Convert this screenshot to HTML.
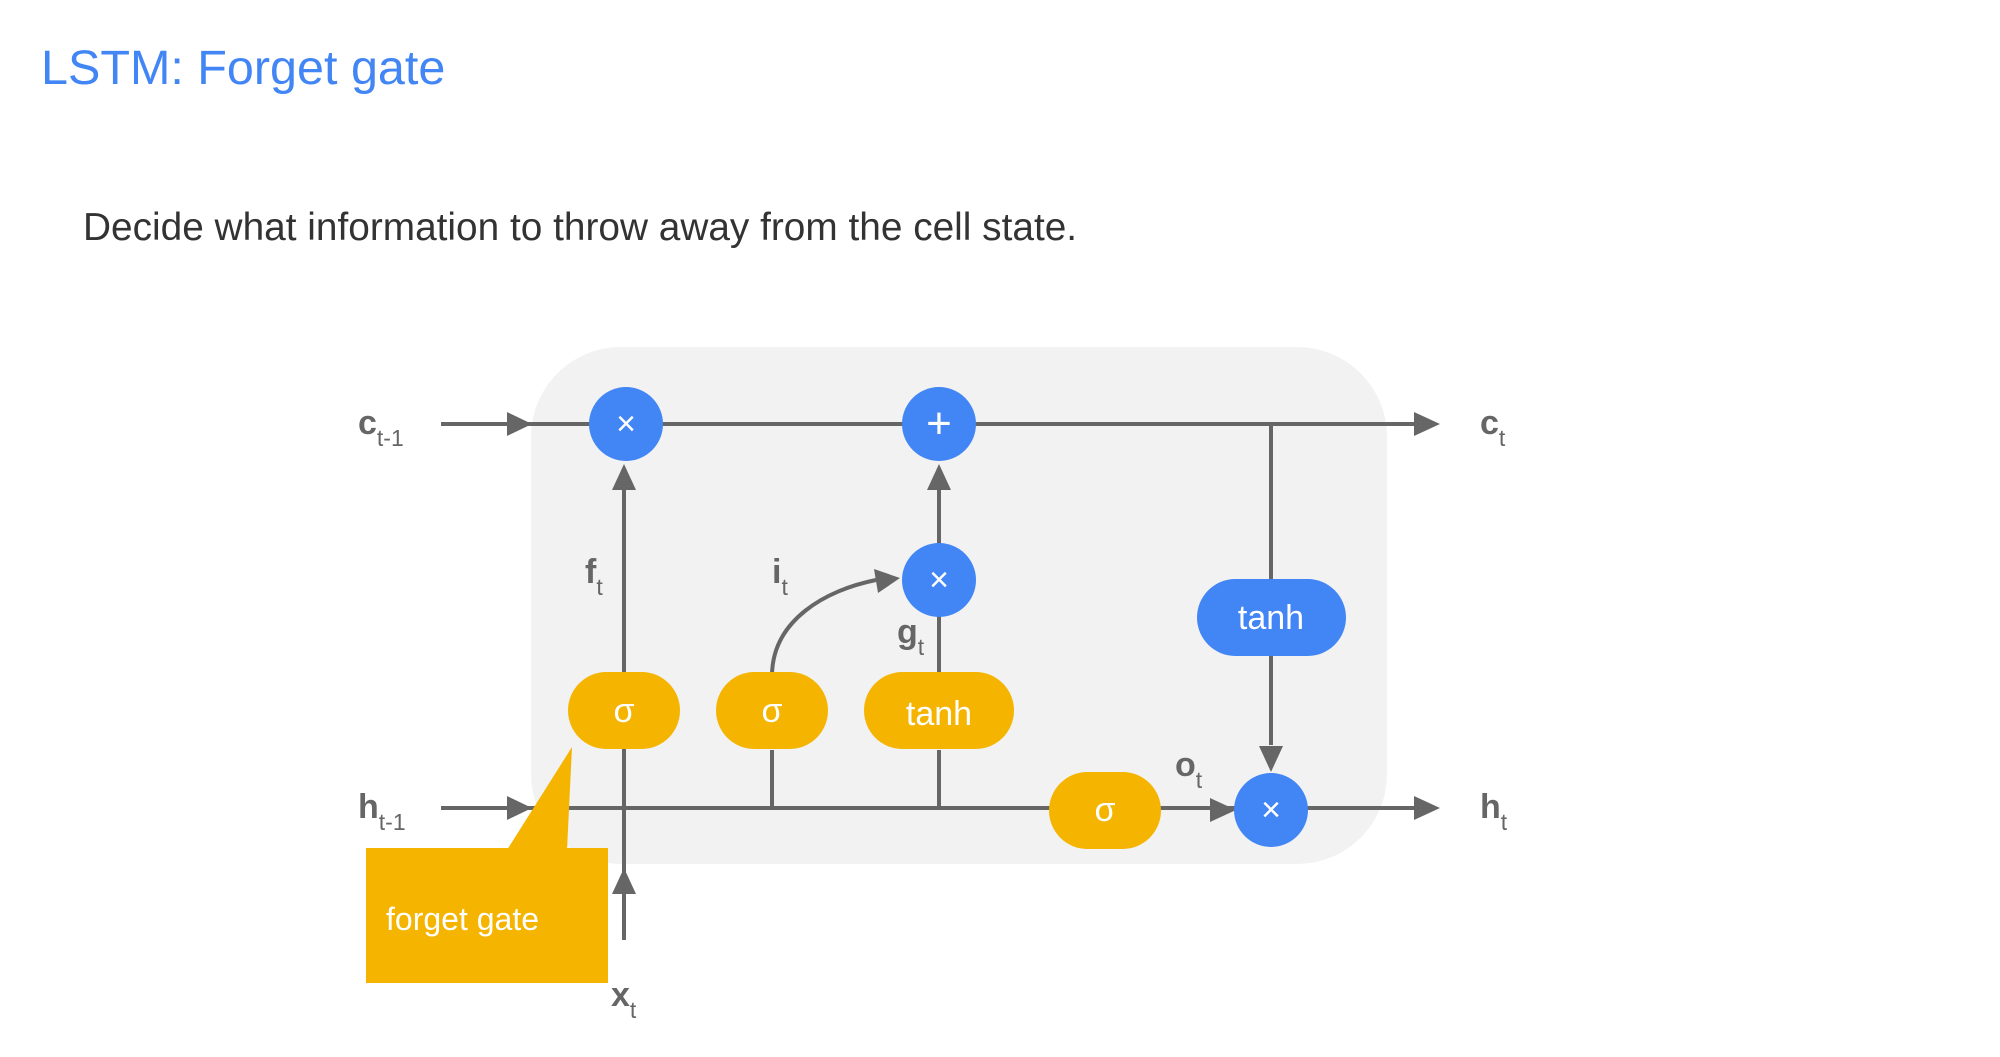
<!DOCTYPE html>
<html><head><meta charset="utf-8"><style>
html,body{margin:0;padding:0;background:#fff;width:2000px;height:1057px;overflow:hidden}
svg{display:block}
</style></head><body>
<svg width="2000" height="1057" viewBox="0 0 2000 1057" xmlns="http://www.w3.org/2000/svg" font-family="Liberation Sans, sans-serif">
<text x="41" y="84" font-size="48.5" fill="#4285f4">LSTM: Forget gate</text>
<text x="83" y="240" font-size="38.8" fill="#333">Decide what information to throw away from the cell state.</text>
<rect x="531" y="347" width="856" height="517" rx="90" fill="#f2f2f2"/>
<g stroke="#666" stroke-width="4" fill="none">
<line x1="441" y1="424" x2="1414" y2="424"/>
<line x1="441" y1="808" x2="1414" y2="808"/>
<line x1="624" y1="940" x2="624" y2="470"/>
<line x1="772" y1="750" x2="772" y2="808"/>
<line x1="939" y1="750" x2="939" y2="808"/>
<line x1="939" y1="676" x2="939" y2="615"/>
<line x1="939" y1="545" x2="939" y2="468"/>
<line x1="1271" y1="424" x2="1271" y2="580"/>
<line x1="1271" y1="656" x2="1271" y2="745"/>
<path d="M772 676 C772 620 826 590 876 580"/>
</g>
<g fill="#666">
<polygon points="532,424 507,412 507,436"/>
<polygon points="532,808 507,796 507,820"/>
<polygon points="1440,424 1414,412 1414,436"/>
<polygon points="1440,808 1414,796 1414,820"/>
<polygon points="624,464 612,490 636,490"/>
<polygon points="939,464 927,490 951,490"/>
<polygon points="624,868 612,894 636,894"/>
<polygon points="1271,772 1259,746 1283,746"/>
<polygon points="1236,810 1210,798 1210,822"/>
<polygon points="900,578 874,569 878,593"/>
</g>
<g fill="#4285f4">
<circle cx="626" cy="424" r="37"/>
<circle cx="939" cy="424" r="37"/>
<circle cx="939" cy="580" r="37"/>
<circle cx="1271" cy="810" r="37"/>
<rect x="1197" y="579" width="149" height="77" rx="38.5"/>
</g>
<g fill="#f4b400">
<rect x="568" y="672" width="112" height="77" rx="38.5"/>
<rect x="716" y="672" width="112" height="77" rx="38.5"/>
<rect x="864" y="672" width="150" height="77" rx="38.5"/>
<rect x="1049" y="772" width="112" height="77" rx="38.5"/>
<rect x="366" y="848" width="242" height="135"/>
<polygon points="507,850 567,850 572,747"/>
</g>
<g fill="#fff" font-size="34" text-anchor="middle">
<text x="626" y="435">×</text>
<text x="939" y="438" font-size="44">+</text>
<text x="939" y="591">×</text>
<text x="1271" y="821">×</text>
<text x="1271" y="629">tanh</text>
<text x="624" y="722">σ</text>
<text x="772" y="722">σ</text>
<text x="939" y="725">tanh</text>
<text x="1105" y="821">σ</text>
</g>
<text x="386" y="930" font-size="32" fill="#fff">forget gate</text>
<g fill="#666" font-size="34" font-weight="bold">
<text x="358" y="434">c<tspan font-size="23" font-weight="normal" dy="12">t-1</tspan></text>
<text x="358" y="818">h<tspan font-size="23" font-weight="normal" dy="12">t-1</tspan></text>
<text x="1480" y="434">c<tspan font-size="23" font-weight="normal" dy="12">t</tspan></text>
<text x="1480" y="818">h<tspan font-size="23" font-weight="normal" dy="12">t</tspan></text>
<text x="585" y="583">f<tspan font-size="23" font-weight="normal" dy="12">t</tspan></text>
<text x="772" y="583">i<tspan font-size="23" font-weight="normal" dy="12">t</tspan></text>
<text x="897" y="643">g<tspan font-size="23" font-weight="normal" dy="12">t</tspan></text>
<text x="1175" y="776">o<tspan font-size="23" font-weight="normal" dy="12">t</tspan></text>
<text x="611" y="1006">x<tspan font-size="23" font-weight="normal" dy="12">t</tspan></text>
</g>
</svg>
</body></html>
